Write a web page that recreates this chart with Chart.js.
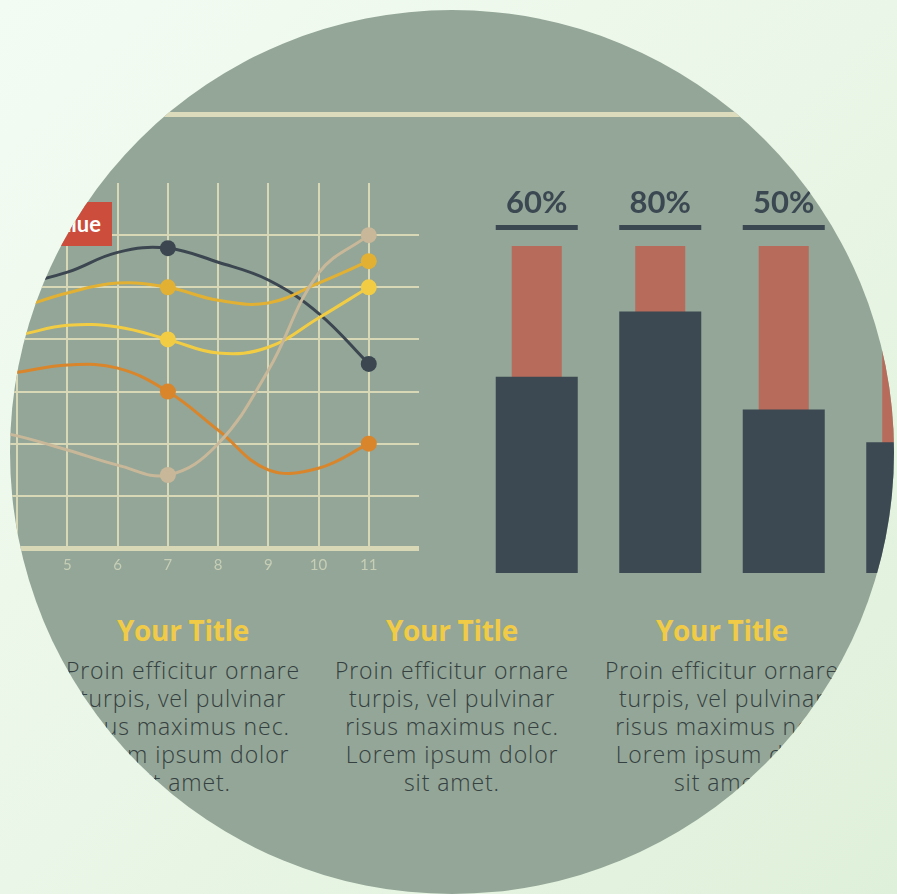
<!DOCTYPE html>
<html>
<head>
<meta charset="utf-8">
<script src="https://cdn.jsdelivr.net/npm/chart.js@4"></script>
<style>
    html, body {
        margin: 0;
        padding: 0;
        width: 897px;
        height: 894px;
        overflow: hidden;
    }

    body {
        background: linear-gradient(135deg, #f3fcf3 0%, #eaf6e7 50%, #dff0da 100%);
        font-family: 'Open Sans', 'Lato', sans-serif;
    }

    .circle {
        position: absolute;
        left: 10px;
        top: 10px;
        width: 884px;
        height: 884px;
        border-radius: 50%;
        overflow: hidden;
        background: #93a697;
    }

    .top-rule {
        position: absolute;
        left: 0;
        top: 102px;
        width: 100%;
        height: 5px;
        background: #dcdcbc;
    }

    #lineCanvas {
        position: absolute;
        left: -43px;
        top: 173px;
    }

    #barCanvas {
        position: absolute;
        left: 465px;
        top: 170px;
    }

    .badge {
        position: absolute;
        left: 18px;
        top: 192px;
        width: 84px;
        height: 44px;
        background: #cd4d3c;
        color: #ffffff;
        font-family: 'Lato', sans-serif;
        font-weight: bold;
        font-size: 22px;
        line-height: 44px;
        text-align: right;
        box-sizing: border-box;
        padding-right: 11px;
    }

    .column {
        position: absolute;
        top: 604px;
        width: 270px;
        text-align: center;
    }

    .column h3 {
        margin: 0;
        font-size: 28px;
        line-height: 32px;
        font-weight: bold;
        color: #f1cb45;
        letter-spacing: -0.3px;
    }

    .column p {
        margin: 10px 0 0 0;
        font-size: 23px;
        font-weight: 300;
        line-height: 28px;
        letter-spacing: 0.9px;
        color: #354040;
        white-space: nowrap;
    }
</style>
</head>
<body>
<div class="circle">
    <div class="top-rule"></div>
    <canvas id="lineCanvas" width="452" height="395"></canvas>
    <div class="badge">Value</div>
    <canvas id="barCanvas" width="494" height="393"></canvas>

    <div class="column" style="left: 38px;">
        <h3>Your Title</h3>
        <p>Proin efficitur ornare<br>turpis, vel pulvinar<br>risus maximus nec.<br>Lorem ipsum dolor<br>sit amet.</p>
    </div>
    <div class="column" style="left: 307px;">
        <h3>Your Title</h3>
        <p>Proin efficitur ornare<br>turpis, vel pulvinar<br>risus maximus nec.<br>Lorem ipsum dolor<br>sit amet.</p>
    </div>
    <div class="column" style="left: 577px;">
        <h3>Your Title</h3>
        <p>Proin efficitur ornare<br>turpis, vel pulvinar<br>risus maximus nec.<br>Lorem ipsum dolor<br>sit amet.</p>
    </div>
</div>

<script>
// line chart data (x = 3..11)
const xValues = [3, 4, 5, 6, 7, 8, 9, 10, 11];
const xTickLabels = [5, 6, 7, 8, 9, 10, 11];
const markerX = [7, 11];

const serieEscura = [4.9, 5.05, 5.29, 5.67, 5.75, 5.48, 5.14, 4.5, 3.53];
const serieOuro = [4.35, 4.6, 4.89, 5.08, 5.0, 4.75, 4.7, 5.08, 5.5];
const serieAmarela = [3.95, 4.08, 4.27, 4.24, 4.0, 3.74, 3.85, 4.41, 5.0];
const serieLaranja = [3.25, 3.37, 3.51, 3.45, 3.0, 2.26, 1.5, 1.53, 2.0];
const serieBege = [2.35, 2.15, 1.88, 1.59, 1.4, 2.0, 3.41, 5.27, 6.0];

// bar chart data
const barCategories = ['A', 'B', 'C', 'D'];
const barValues = [60, 80, 50, 40];
const barTotals = [100, 100, 100, 100];

const GRID_COLOR = '#d8d7b6';

const InfographicPage = {
    chartLinhas: null,
    chartBarras: null,

    init() {
        this.renderLineChart();
        this.renderBarChart();
    },

    buildSeries(label, values, color) {
        return {
            label: label,
            data: values.map((v, i) => ({ x: xValues[i], y: v })),
            borderColor: color,
            backgroundColor: color,
            borderWidth: 3,
            tension: 0.4,
            pointBorderWidth: 0,
            pointRadius: ctx => markerX.includes(xValues[ctx.dataIndex]) ? 8 : 0,
            fill: false
        };
    },

    renderLineChart() {
        const canvas = document.getElementById('lineCanvas');
        if (!canvas) return;

        this.chartLinhas = new Chart(canvas, {
            type: 'line',
            data: {
                datasets: [
                    this.buildSeries('Bege', serieBege, '#c8b899'),
                    this.buildSeries('Laranja', serieLaranja, '#d9852c'),
                    this.buildSeries('Amarela', serieAmarela, '#f2cd44'),
                    this.buildSeries('Ouro', serieOuro, '#e2b133'),
                    this.buildSeries('Escura', serieEscura, '#3b4650')
                ]
            },
            options: {
                responsive: false,
                animation: false,
                layout: { padding: 0, autoPadding: false },
                plugins: {
                    legend: { display: false },
                    tooltip: { enabled: false }
                },
                scales: {
                    x: {
                        type: 'linear',
                        min: 3,
                        max: 12,
                        afterFit: scale => {
                            scale.height = 30;
                            scale.paddingLeft = 0;
                            scale.paddingRight = 0;
                        },
                        border: { display: true, color: GRID_COLOR, width: 5 },
                        grid: {
                            drawTicks: false,
                            lineWidth: 2,
                            color: ctx => ctx.tick && ctx.tick.value === 12 ? 'rgba(0,0,0,0)' : GRID_COLOR
                        },
                        ticks: {
                            stepSize: 1,
                            padding: 8,
                            color: '#c7ceb6',
                            font: { family: 'Lato', size: 15 },
                            maxRotation: 0,
                            callback: value => xTickLabels.includes(value) ? String(value) : ''
                        }
                    },
                    y: {
                        min: 0,
                        max: 7,
                        afterFit: scale => {
                            scale.width = 0;
                            scale.paddingTop = 0;
                            scale.paddingBottom = 0;
                        },
                        border: { display: false },
                        grid: {
                            drawTicks: false,
                            lineWidth: 2,
                            color: ctx => (ctx.tick && (ctx.tick.value === 0 || ctx.tick.value === 7)) ? 'rgba(0,0,0,0)' : GRID_COLOR
                        },
                        ticks: { display: false, stepSize: 1 }
                    }
                }
            }
        });
    },

    renderBarChart() {
        const canvas = document.getElementById('barCanvas');
        if (!canvas) return;

        // percent label + underline above each dark bar
        const percentLabels = {
            id: 'percentLabels',
            afterDatasetsDraw(chart) {
                const ctx = chart.ctx;
                const meta = chart.getDatasetMeta(0);
                ctx.save();
                ctx.fillStyle = '#3b4852';
                ctx.font = 'bold 31px Lato, sans-serif';
                ctx.textAlign = 'center';
                ctx.textBaseline = 'middle';
                meta.data.forEach((bar, i) => {
                    ctx.fillText(barValues[i] + '%', bar.x, 23);
                    ctx.fillRect(bar.x - bar.width / 2, 45, bar.width, 5);
                });
                ctx.restore();
            }
        };

        this.chartBarras = new Chart(canvas, {
            type: 'bar',
            data: {
                labels: barCategories,
                datasets: [
                    {
                        label: 'Valor',
                        data: barValues,
                        backgroundColor: '#3c4952',
                        barPercentage: 0.664,
                        categoryPercentage: 1,
                        grouped: false,
                        order: 1
                    },
                    {
                        label: 'Total',
                        data: barTotals,
                        backgroundColor: '#b76b5b',
                        barPercentage: 0.405,
                        categoryPercentage: 1,
                        grouped: false,
                        order: 2
                    }
                ]
            },
            options: {
                responsive: false,
                animation: false,
                layout: { padding: { top: 66, left: 0, right: 0, bottom: 0 } },
                plugins: {
                    legend: { display: false },
                    tooltip: { enabled: false }
                },
                scales: {
                    x: { display: false },
                    y: { display: false, min: 0, max: 100 }
                }
            },
            plugins: [percentLabels]
        });
    }
};

InfographicPage.init();
</script>
</body>
</html>
